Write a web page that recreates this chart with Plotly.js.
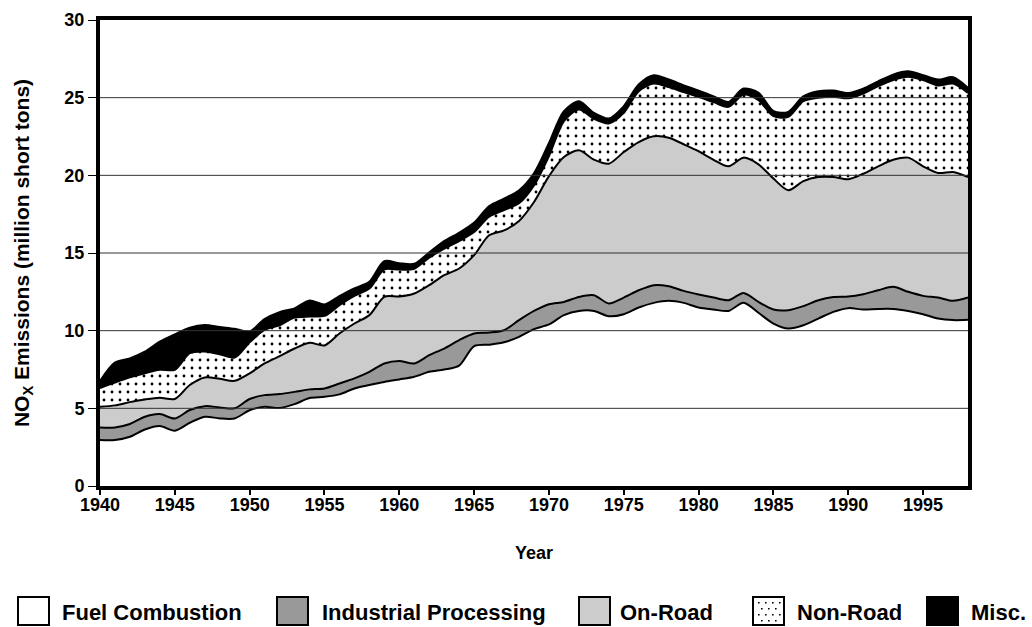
<!DOCTYPE html>
<html><head><meta charset="utf-8">
<script src="https://cdn.plot.ly/plotly-3.0.1.min.js"></script>
<style>html,body{margin:0;padding:0;background:#fff}</style>
</head><body><div id="chart" style="width:1032px;height:627px"></div>
<script>
const years = [1940,1941,1942,1943,1944,1945,1946,1947,1948,1949,
  1950,1951,1952,1953,1954,1955,1956,1957,1958,1959,
  1960,1961,1962,1963,1964,1965,1966,1967,1968,1969,
  1970,1971,1972,1973,1974,1975,1976,1977,1978,1979,
  1980,1981,1982,1983,1984,1985,1986,1987,1988,1989,
  1990,1991,1992,1993,1994,1995,1996,1997,1998];

const fuelCombustion = [2.96,2.96,3.17,3.64,3.86,3.56,4.07,4.46,4.35,4.35,
  4.88,5.10,5.02,5.27,5.66,5.74,5.90,6.28,6.50,6.70,
  6.86,7.03,7.35,7.50,7.75,9.00,9.10,9.25,9.60,10.10,
  10.40,11.00,11.27,11.27,10.93,11.06,11.49,11.79,11.92,11.79,
  11.49,11.36,11.27,11.79,11.15,10.46,10.14,10.35,10.78,11.21,
  11.45,11.36,11.40,11.40,11.27,11.06,10.78,10.68,10.70];

const industrialProcessing = [0.81,0.81,0.82,0.82,0.77,0.79,0.82,0.68,0.71,0.65,
  0.72,0.75,0.90,0.79,0.56,0.54,0.70,0.65,0.85,1.19,
  1.19,0.86,1.07,1.35,1.64,0.82,0.78,0.78,1.08,1.17,
  1.30,0.85,0.90,1.01,0.82,1.07,1.11,1.14,0.94,0.77,
  0.84,0.77,0.69,0.64,0.70,0.90,1.18,1.23,1.18,0.96,
  0.75,0.99,1.20,1.42,1.23,1.18,1.35,1.24,1.43];

const onRoad = [1.33,1.42,1.41,1.11,1.05,1.25,1.61,1.85,1.84,1.77,
  1.65,2.04,2.44,2.79,3.00,2.77,3.22,3.53,3.65,4.29,
  4.15,4.50,4.51,4.72,4.61,5.04,6.26,6.43,6.38,7.01,
  8.25,9.33,9.44,8.73,9.00,9.37,9.54,9.58,9.56,9.44,
  9.22,8.87,8.62,8.71,8.86,8.43,7.72,8.05,7.93,7.72,
  7.55,7.75,7.98,8.18,8.64,8.34,8.02,8.29,7.76];

const nonRoad = [1.21,1.47,1.59,1.69,1.80,1.88,2.05,1.67,1.58,1.50,
  2.00,2.16,1.99,1.99,1.69,1.90,1.82,1.78,1.71,1.77,
  1.73,1.60,1.77,1.71,1.77,1.49,1.20,1.31,1.14,1.07,
  1.29,2.31,2.63,2.63,2.59,2.53,3.28,3.40,3.26,3.36,
  3.51,3.71,3.83,4.06,4.13,4.02,4.73,5.14,5.10,5.17,
  5.21,5.17,5.16,5.13,5.20,5.55,5.63,5.70,5.42];

const misc = [0.42,1.27,1.21,1.37,1.80,2.27,1.63,1.69,1.74,1.84,
  0.67,0.68,0.83,0.58,1.02,0.72,0.57,0.47,0.42,0.51,
  0.40,0.30,0.32,0.47,0.52,0.58,0.66,0.72,0.81,0.75,
  0.80,0.62,0.51,0.36,0.30,0.40,0.41,0.52,0.47,0.42,
  0.37,0.36,0.30,0.37,0.45,0.30,0.30,0.30,0.41,0.38,
  0.33,0.30,0.30,0.34,0.34,0.30,0.37,0.39,0.30];

const seriesNames = ['Fuel Combustion','Industrial Processing','On-Road','Non-Road','Misc.'];
const xTicks = [1940,1945,1950,1955,1960,1965,1970,1975,1980,1985,1990,1995];
const yTicks = [0,5,10,15,20,25,30];
const gridValues = [5,10,15,20,25];

const SANS = 'Liberation Sans, Arial, Helvetica, sans-serif';

function area(name, y, fill, extra) {
  return Object.assign({
    type: 'scatter', x: years, y: y, name: name, stackgroup: 'one',
    mode: 'lines', line: {color: 'black', width: 2, shape: 'spline', smoothing: 0.8},
    fillcolor: fill, hoverinfo: 'skip'
  }, extra || {});
}

const traces = [
  area(seriesNames[0], fuelCombustion, '#ffffff'),
  area(seriesNames[1], industrialProcessing, '#999999'),
  area(seriesNames[2], onRoad, '#cccccc'),
  area(seriesNames[3], nonRoad, '#ffffff', {fillpattern: {shape: '.', bgcolor: '#ffffff', fgcolor: '#000000', size: 8, solidity: 0.1}}),
  area(seriesNames[4], misc, '#000000', {line: {color: 'black', width: 2.5, shape: 'spline', smoothing: 0.8}})
];

// layout geometry (pixels)
const W = 1032, H = 627, ML = 100, MR = 64, MT = 20, MB = 141;
const PW = W - ML - MR, PH = H - MT - MB;
const px = X => (X - ML) / PW;
const py = Y => (H - MB - Y) / PH;

const shapes = gridValues.map(v => ({
  type: 'line', xref: 'paper', yref: 'y', x0: 0, x1: 1, y0: v, y1: v,
  line: {color: '#333333', width: 1}, layer: 'above'
}));

// legend swatches
const boxY0 = 597, boxY1 = 625;
const legendItems = [
  {bx: 18, tx: 60, fill: '#ffffff'},
  {bx: 277, tx: 320, fill: '#999999'},
  {bx: 579, tx: 618, fill: '#cccccc'},
  {bx: 753, tx: 795, fill: '#ffffff', dots: true},
  {bx: 927, tx: 969, fill: '#000000'}
];
const boxW = 31;
const annotations = [];
legendItems.forEach((it, i) => {
  shapes.push({type: 'rect', xref: 'paper', yref: 'paper',
    x0: px(it.bx), x1: px(it.bx + boxW), y0: py(boxY1), y1: py(boxY0),
    fillcolor: it.fill, line: {color: 'black', width: 2}, layer: 'above'});
  if (it.dots) {
    for (let r = 0; r < 4; r++) {
      for (let c = 0; c < 4; c++) {
        const dx = it.bx + 5 + c * 7 + (r % 2) * 3;
        const dy = boxY0 + 5 + r * 6;
        if (dx + 2 > it.bx + boxW - 2) continue;
        shapes.push({type: 'rect', xref: 'paper', yref: 'paper',
          x0: px(dx), x1: px(dx + 1.6), y0: py(dy + 1.6), y1: py(dy),
          fillcolor: '#000000', line: {width: 0}, layer: 'above'});
      }
    }
  }
  annotations.push({xref: 'paper', yref: 'paper', x: px(it.tx), y: py(612),
    xanchor: 'left', yanchor: 'middle', showarrow: false, text: seriesNames[i],
    font: {family: SANS, size: 22, weight: 'bold', color: '#000'}});
});

const layout = {
  width: W, height: H,
  margin: {l: ML, r: MR, t: MT, b: MB, pad: 0},
  paper_bgcolor: '#ffffff', plot_bgcolor: '#ffffff',
  showlegend: false,
  xaxis: {
    range: [1940, 1998], tickvals: xTicks, ticktext: xTicks.map(String),
    ticks: 'outside', ticklen: 5, tickwidth: 2, tickcolor: '#000',
    ticklabelstandoff: -6,
    showline: true, linewidth: 4, linecolor: '#000', mirror: true,
    showgrid: false, zeroline: false,
    tickfont: {family: SANS, size: 18, weight: 'bold', color: '#000'},
    title: {text: 'Year', standoff: 34, font: {family: SANS, size: 18, weight: 'bold', color: '#000'}}
  },
  yaxis: {
    range: [0, 30], tickvals: yTicks, ticktext: yTicks.map(String),
    ticks: 'outside', ticklen: 8, tickwidth: 1, tickcolor: '#000',
    showline: true, linewidth: 4, linecolor: '#000', mirror: true,
    showgrid: false, zeroline: false,
    tickfont: {family: SANS, size: 18, weight: 'bold', color: '#000'},
    title: {text: 'NO<sub>X</sub> Emissions (million short tons)', standoff: 30,
      font: {family: SANS, size: 21, weight: 'bold', color: '#000'}}
  },
  shapes: shapes,
  annotations: annotations
};

Plotly.newPlot('chart', traces, layout, {displayModeBar: false, staticPlot: true});
</script></body></html>
